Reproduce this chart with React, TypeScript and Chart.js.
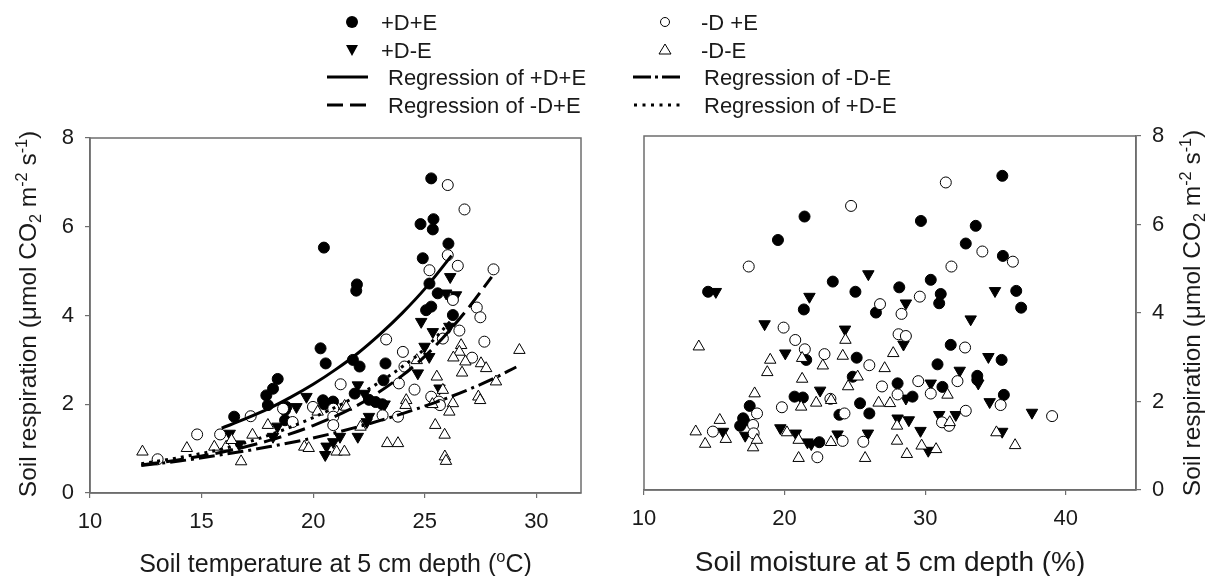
import React, { useEffect, useRef } from "react";
import { Chart, registerables } from "chart.js";

Chart.register(...registerables);

const FONT = '"Liberation Sans", Arial, Helvetica, sans-serif';
const TEXT = "#1a1a1a";
const AXIS = "#6e6e6e";

// ---------- tick labels ----------
const tempTicks = [10, 15, 20, 25, 30];
const moistTicks = [10, 20, 30, 40];
const respTicks = [0, 2, 4, 6, 8];

// ---------- legend labels ----------
const legendLabels = [
  "+D+E", "-D +E", "+D-E", "-D-E",
  "Regression of +D+E", "Regression of -D-E",
  "Regression of -D+E", "Regression of +D-E",
];

type Pt = [number, number];

// ---------- Left panel: soil temperature (°C) vs respiration ----------
const tempPlusDPlusE: Pt[] = [
  [25.29, 7.09], [24.81, 6.06], [25.39, 6.17], [25.36, 5.94], [26.06, 5.62], [24.91, 5.29],
  [20.48, 5.53], [21.96, 4.7], [21.93, 4.56], [25.21, 4.72], [25.58, 4.5], [25.06, 4.12],
  [25.29, 4.2], [26.26, 4.01], [20.33, 3.26], [20.56, 2.92], [21.78, 3.0], [22.08, 2.85],
  [23.24, 2.92], [23.15, 2.54], [18.41, 2.57], [18.8, 1.94], [20.44, 2.09], [20.89, 2.06],
  [21.86, 2.24], [22.5, 2.1], [22.8, 2.05], [23.1, 2.0], [17.9, 2.2], [18.2, 2.35],
  [16.46, 1.72], [18.74, 1.87], [18.74, 1.64], [17.97, 1.98], [20.5, 2.0],
];
const tempMinusDPlusE: Pt[] = [
  [26.03, 6.94], [26.78, 6.39], [26.03, 5.36], [26.48, 5.12], [25.21, 5.02], [28.08, 5.04],
  [26.26, 4.35], [27.33, 4.18], [27.49, 3.96], [26.55, 3.66], [25.81, 3.48], [23.27, 3.46],
  [24.02, 3.18], [27.67, 3.41], [27.12, 3.05], [24.09, 2.85], [23.84, 2.47], [24.54, 2.33],
  [21.23, 2.45], [19.99, 1.94], [25.29, 2.17], [25.63, 2.06], [13.03, 0.76], [14.8, 1.32],
  [15.83, 1.32], [17.2, 1.73], [19.08, 1.6], [18.65, 1.9], [20.9, 1.9], [20.9, 1.72],
  [20.9, 1.53], [23.11, 1.75], [23.8, 1.72], [25.68, 1.98],
];
const tempPlusDMinusE: Pt[] = [
  [26.14, 4.87], [25.96, 4.5], [26.4, 4.46], [24.84, 3.86], [25.36, 3.63], [26.1, 3.75],
  [24.99, 3.3], [25.2, 3.07], [24.69, 2.7], [22.0, 2.43], [22.3, 2.24], [25.66, 2.36],
  [25.44, 2.06], [19.25, 1.94], [19.7, 2.17], [22.5, 1.72], [16.26, 1.34], [16.68, 1.1],
  [18.2, 1.27], [20.54, 0.86], [20.6, 1.05], [20.9, 1.15], [21.2, 1.27], [22.0, 1.27],
  [22.4, 1.6], [23.2, 2.0], [18.4, 1.5],
];
const tempMinusDMinusE: Pt[] = [
  [29.24, 3.22], [26.63, 3.33], [26.55, 3.18], [26.28, 3.05], [26.82, 2.96], [27.52, 2.92],
  [27.75, 2.81], [26.67, 2.71], [25.54, 2.62], [28.19, 2.51], [24.64, 2.99], [25.81, 2.32],
  [27.4, 2.17], [24.17, 2.09], [26.26, 2.02], [26.1, 1.83], [21.41, 1.96], [12.35, 0.93],
  [14.34, 1.01], [16.77, 0.71], [17.28, 1.31], [19.6, 1.04], [19.8, 1.01], [21.05, 0.93],
  [21.4, 0.93], [23.32, 1.12], [23.8, 1.12], [25.47, 1.53], [25.89, 1.31], [25.9, 0.82],
  [25.95, 0.72], [25.34, 2.0], [24.14, 1.98], [27.48, 2.09], [21.48, 1.94], [20.2, 1.83],
  [16.1, 1.04], [15.57, 1.04], [16.34, 1.19], [17.97, 1.53], [22.12, 1.49],
];

// regression curves
const regPlusDPlusE: Pt[] = [
  [15.9, 1.46], [17, 1.68], [18, 1.9], [19, 2.16], [20, 2.45], [21, 2.78], [22, 3.15],
  [23, 3.58], [24, 4.06], [25, 4.6], [26.2, 5.35],
];
const regMinusDPlusE: Pt[] = [
  [12.3, 0.63], [14, 0.75], [16, 0.93], [18, 1.18], [20, 1.52], [22, 1.98], [24, 2.65],
  [25, 3.08], [26, 3.6], [27, 4.2], [28, 4.87],
];
const regPlusDMinusE: Pt[] = [
  [12.3, 0.66], [14, 0.8], [16, 1.0], [18, 1.3], [20, 1.7], [22, 2.2], [24, 2.85],
  [25, 3.25], [26.3, 3.95],
];
const regMinusDMinusE: Pt[] = [
  [12.3, 0.62], [14, 0.72], [16, 0.87], [18, 1.04], [20, 1.24], [22, 1.49], [24, 1.79],
  [26, 2.14], [28, 2.56], [29.1, 2.84],
];

// ---------- Right panel: soil moisture (%) vs respiration ----------
const moistPlusDPlusE: Pt[] = [
  [21.42, 6.18], [19.53, 5.65], [14.56, 4.48], [23.43, 4.71], [25.04, 4.48], [28.16, 4.58],
  [21.37, 4.08], [26.5, 4.01], [25.13, 2.99], [24.85, 2.56], [28.04, 2.41], [21.54, 2.94],
  [20.71, 2.11], [21.3, 2.09], [17.52, 1.9], [17.05, 1.62], [25.37, 1.96], [26.03, 1.73],
  [23.9, 1.7], [35.49, 7.1], [29.7, 6.08], [33.6, 5.97], [32.89, 5.57], [35.53, 5.29],
  [30.4, 4.75], [31.11, 4.43], [31.0, 4.22], [36.48, 4.5], [36.83, 4.12], [31.82, 3.28],
  [30.88, 2.84], [35.44, 2.94], [31.23, 2.33], [33.71, 2.58], [33.71, 2.49], [29.1, 2.11],
  [35.6, 2.15], [16.84, 1.45], [17.12, 1.56], [22.47, 1.08],
];
const moistMinusDPlusE: Pt[] = [
  [24.73, 6.42], [17.45, 5.05], [26.79, 4.2], [28.32, 3.98], [19.93, 3.67], [20.76, 3.39],
  [21.44, 3.18], [22.84, 3.07], [26.03, 2.82], [28.11, 3.52], [28.63, 3.48], [26.93, 2.34],
  [28.04, 2.16], [23.26, 2.06], [19.81, 1.87], [18.04, 1.73], [24.26, 1.73], [31.47, 6.95],
  [34.07, 5.39], [36.24, 5.16], [31.87, 5.05], [29.62, 4.37], [32.84, 3.22], [29.51, 2.46],
  [32.3, 2.46], [30.4, 2.18], [35.37, 1.92], [32.89, 1.79], [39.03, 1.67], [14.9, 1.32],
  [17.76, 1.47], [22.33, 0.74], [24.13, 1.11], [25.6, 1.09], [31.7, 1.45], [31.2, 1.53],
  [17.8, 1.28],
];
const moistPlusDMinusE: Pt[] = [
  [15.11, 4.48], [25.96, 4.88], [21.77, 4.37], [28.63, 4.22], [18.58, 3.75], [24.3, 3.63],
  [20.05, 3.09], [28.46, 3.29], [22.53, 2.25], [28.63, 2.07], [28.04, 1.62], [34.97, 4.5],
  [33.24, 3.86], [34.5, 3.01], [32.46, 2.7], [30.4, 2.41], [33.78, 2.41], [34.59, 1.99],
  [37.6, 1.75], [31.0, 1.7], [32.18, 1.7], [15.62, 1.32], [17.2, 1.23], [19.7, 1.4],
  [20.8, 1.28], [21.63, 1.08], [21.9, 1.04], [23.77, 1.26], [25.93, 1.28], [28.84, 1.58],
  [29.67, 1.34], [30.22, 0.89], [35.48, 1.32],
];
const moistMinusDMinusE: Pt[] = [
  [13.9, 3.24], [18.98, 2.94], [18.77, 2.66], [21.25, 2.98], [22.72, 2.81], [24.14, 3.03],
  [24.33, 3.39], [21.25, 2.51], [24.52, 2.34], [25.2, 2.56], [27.12, 2.75], [27.73, 3.09],
  [17.87, 2.18], [22.25, 1.97], [23.31, 2.03], [21.18, 1.88], [26.69, 1.97], [27.5, 1.96],
  [15.39, 1.58], [31.59, 2.15], [13.68, 1.32], [14.35, 1.04], [15.82, 1.15], [17.76, 0.96],
  [18.03, 1.13], [20.17, 1.3], [21.0, 1.13], [21.0, 0.72], [23.3, 1.08], [25.73, 0.72],
  [28.0, 1.11], [28.0, 1.45], [28.7, 0.81], [29.75, 1.0], [30.78, 0.92], [31.75, 1.53],
  [35.07, 1.3], [36.4, 1.01],
];

// ---------- helpers ----------
const toXY = (a: Pt[]) => a.map(([x, y]) => ({ x, y }));

type Kind = "fc" | "oc" | "ft" | "ot";
const scatterDs = (label: string, pts: Pt[], kind: Kind) => {
  const tri = kind === "ft" || kind === "ot";
  const filled = kind === "fc" || kind === "ft";
  return {
    type: "scatter",
    label,
    data: toXY(pts),
    showLine: false,
    pointStyle: tri ? "triangle" : "circle",
    rotation: kind === "ft" ? 180 : 0,
    pointRadius: tri ? 6.6 : 5.5,
    backgroundColor: filled ? "#000" : "#fff",
    borderColor: "#000",
    borderWidth: 1,
    order: 2,
  };
};
const lineDs = (label: string, pts: Pt[], dash: number[]) => ({
  type: "line",
  label,
  data: toXY(pts),
  borderColor: "#000",
  borderWidth: 3,
  borderDash: dash,
  pointRadius: 0,
  fill: false,
  cubicInterpolationMode: "monotone",
  order: 1,
});

const DASH = [18, 7];
const DASHDOT = [16, 5, 3, 5];
const DOT = [3, 5];

type Seg = { t: string; s?: "sup" | "sub" };
const respTitle: Seg[] = [
  { t: "Soil respiration (\u03bcmol CO" }, { t: "2", s: "sub" }, { t: " m" },
  { t: "-2", s: "sup" }, { t: " s" }, { t: "-1", s: "sup" }, { t: ")" },
];
const tempTitle: Seg[] = [{ t: "Soil temperature at 5 cm depth (" }, { t: "o", s: "sup" }, { t: "C)" }];
const moistTitle: Seg[] = [{ t: "Soil moisture at 5 cm depth (%)" }];

function drawRich(ctx: CanvasRenderingContext2D, segs: Seg[], cx: number, cy: number, size: number, vertical: boolean) {
  ctx.save();
  ctx.translate(cx, cy);
  if (vertical) ctx.rotate(-Math.PI / 2);
  const small = size * 0.66;
  let total = 0;
  const widths = segs.map((sg) => {
    ctx.font = `${sg.s ? small : size}px ${FONT}`;
    const w = ctx.measureText(sg.t).width;
    total += w;
    return w;
  });
  let x = -total / 2;
  ctx.fillStyle = TEXT;
  ctx.textBaseline = "alphabetic";
  ctx.textAlign = "left";
  segs.forEach((sg, i) => {
    ctx.font = `${sg.s ? small : size}px ${FONT}`;
    const dy = sg.s === "sup" ? -size * 0.4 : sg.s === "sub" ? size * 0.18 : 0;
    ctx.fillText(sg.t, x, size * 0.34 + dy);
    x += widths[i];
  });
  ctx.restore();
}

function drawMarker(ctx: CanvasRenderingContext2D, kind: Kind, x: number, y: number) {
  ctx.save();
  ctx.lineWidth = 1;
  ctx.strokeStyle = "#000";
  ctx.fillStyle = "#000";
  ctx.beginPath();
  if (kind === "fc") {
    ctx.arc(x, y, 6, 0, Math.PI * 2);
    ctx.fill();
  } else if (kind === "oc") {
    ctx.arc(x, y, 4.5, 0, Math.PI * 2);
    ctx.stroke();
  } else if (kind === "ft") {
    ctx.moveTo(x - 6, y - 5);
    ctx.lineTo(x + 6, y - 5);
    ctx.lineTo(x, y + 6);
    ctx.closePath();
    ctx.fill();
  } else {
    ctx.moveTo(x, y - 6);
    ctx.lineTo(x + 6, y + 4);
    ctx.lineTo(x - 6, y + 4);
    ctx.closePath();
    ctx.stroke();
  }
  ctx.restore();
}

function drawLegendLine(ctx: CanvasRenderingContext2D, x0: number, x1: number, y: number, dash: number[]) {
  ctx.save();
  ctx.strokeStyle = "#000";
  ctx.lineWidth = 3;
  ctx.setLineDash(dash);
  ctx.beginPath();
  ctx.moveTo(x0, y);
  ctx.lineTo(x1, y);
  ctx.stroke();
  ctx.restore();
}

const framePlugin = {
  id: "frame",
  afterDraw(chart: any) {
    const { ctx, chartArea: a } = chart;
    ctx.save();
    ctx.strokeStyle = AXIS;
    ctx.lineWidth = 1.5;
    ctx.strokeRect(a.left, a.top, a.right - a.left, a.bottom - a.top);
    ctx.restore();
  },
};

const legendPlugin = {
  id: "customLegend",
  afterDraw(chart: any) {
    const ctx = chart.ctx as CanvasRenderingContext2D;
    const rows = [22, 50, 77, 105];
    const fs = 22;
    const text = (s: string, x: number, y: number) => {
      ctx.save();
      ctx.font = `${fs}px ${FONT}`;
      ctx.fillStyle = TEXT;
      ctx.textBaseline = "alphabetic";
      ctx.fillText(s, x, y + fs * 0.36);
      ctx.restore();
    };
    // column 1
    drawMarker(ctx, "fc", 352, rows[0]);
    text(legendLabels[0], 381, rows[0]);
    drawMarker(ctx, "ft", 352, rows[1]);
    text(legendLabels[2], 381, rows[1]);
    drawLegendLine(ctx, 327, 368, rows[2], []);
    text(legendLabels[4], 388, rows[2]);
    drawLegendLine(ctx, 327, 368, rows[3], [16, 7]);
    text(legendLabels[6], 388, rows[3]);
    // column 2
    drawMarker(ctx, "oc", 665, rows[0]);
    text(legendLabels[1], 701, rows[0]);
    drawMarker(ctx, "ot", 665, rows[1]);
    text(legendLabels[3], 701, rows[1]);
    drawLegendLine(ctx, 633, 682, rows[2], [18, 4, 3, 4]);
    text(legendLabels[5], 704, rows[2]);
    drawLegendLine(ctx, 634, 681, rows[3], [3, 5.5]);
    text(legendLabels[7], 704, rows[3]);
  },
};

const axisCommon = (ticks: number[], padding: number) => ({
  type: "linear",
  afterBuildTicks: (s: any) => {
    s.ticks = ticks.map((v) => ({ value: v }));
  },
  ticks: { font: { family: FONT, size: 22 }, color: TEXT, padding },
  grid: { display: true, drawOnChartArea: false, drawTicks: true, tickLength: 5, color: AXIS, lineWidth: 1.2 },
  border: { display: true, color: AXIS, width: 1.5 },
  title: { display: false },
});

function leftConfig(): any {
  return {
    type: "scatter",
    data: {
      datasets: [
        scatterDs(legendLabels[3], tempMinusDMinusE, "ot"),
        scatterDs(legendLabels[1], tempMinusDPlusE, "oc"),
        scatterDs(legendLabels[2], tempPlusDMinusE, "ft"),
        scatterDs(legendLabels[0], tempPlusDPlusE, "fc"),
        lineDs(legendLabels[4], regPlusDPlusE, []),
        lineDs(legendLabels[6], regMinusDPlusE, DASH),
        lineDs(legendLabels[5], regMinusDMinusE, DASHDOT),
        lineDs(legendLabels[7], regPlusDMinusE, DOT),
      ],
    },
    options: {
      responsive: false,
      animation: false,
      layout: { padding: { left: 0, top: 138, right: 1210 - 581, bottom: 0 } },
      plugins: { legend: { display: false }, tooltip: { enabled: false } },
      scales: {
        x: {
          ...axisCommon(tempTicks, 11),
          min: 10,
          max: 32,
          position: "bottom",
          afterFit: (s: any) => { s.height = 83; },
        },
        y: {
          ...axisCommon(respTicks, 11),
          min: 0,
          max: 8,
          position: "left",
          afterFit: (s: any) => { s.width = 90; },
        },
      },
    },
    plugins: [
      framePlugin,
      legendPlugin,
      {
        id: "titlesLeft",
        afterDraw(chart: any) {
          const ctx = chart.ctx;
          drawRich(ctx, respTitle, 28, 314, 24.5, true);
          drawRich(ctx, tempTitle, 335.5, 563, 25, false);
        },
      },
    ],
  };
}

function rightConfig(): any {
  return {
    type: "scatter",
    data: {
      datasets: [
        scatterDs(legendLabels[3], moistMinusDMinusE, "ot"),
        scatterDs(legendLabels[1], moistMinusDPlusE, "oc"),
        scatterDs(legendLabels[2], moistPlusDMinusE, "ft"),
        scatterDs(legendLabels[0], moistPlusDPlusE, "fc"),
      ],
    },
    options: {
      responsive: false,
      animation: false,
      layout: { padding: { left: 44, top: 136, right: 0, bottom: 0 } },
      plugins: { legend: { display: false }, tooltip: { enabled: false } },
      scales: {
        x: {
          ...axisCommon(moistTicks, 11),
          min: 10,
          max: 45,
          position: "bottom",
          afterFit: (s: any) => { s.height = 86; },
        },
        y: {
          ...axisCommon(respTicks, 11),
          min: 0,
          max: 8,
          position: "right",
          afterFit: (s: any) => { s.width = 74; },
        },
      },
    },
    plugins: [
      framePlugin,
      {
        id: "titlesRight",
        afterDraw(chart: any) {
          const ctx = chart.ctx;
          drawRich(ctx, respTitle, 592, 313, 24.5, true);
          drawRich(ctx, moistTitle, 290, 561, 28, false);
        },
      },
    ],
  };
}

export default function App() {
  const leftRef = useRef<HTMLCanvasElement>(null);
  const rightRef = useRef<HTMLCanvasElement>(null);
  useEffect(() => {
    const c1 = new Chart(leftRef.current as HTMLCanvasElement, leftConfig());
    const c2 = new Chart(rightRef.current as HTMLCanvasElement, rightConfig());
    return () => {
      c1.destroy();
      c2.destroy();
    };
  }, []);
  return (
    <div style={{ position: "fixed", left: 0, top: 0, width: 1210, height: 576, background: "#fff", overflow: "hidden" }}>
      <canvas
        ref={leftRef}
        width={1210}
        height={576}
        style={{ position: "absolute", left: 0, top: 0, width: 1210, height: 576, display: "block" }}
      />
      <canvas
        ref={rightRef}
        width={610}
        height={576}
        style={{ position: "absolute", left: 600, top: 0, width: 610, height: 576, display: "block" }}
      />
    </div>
  );
}
